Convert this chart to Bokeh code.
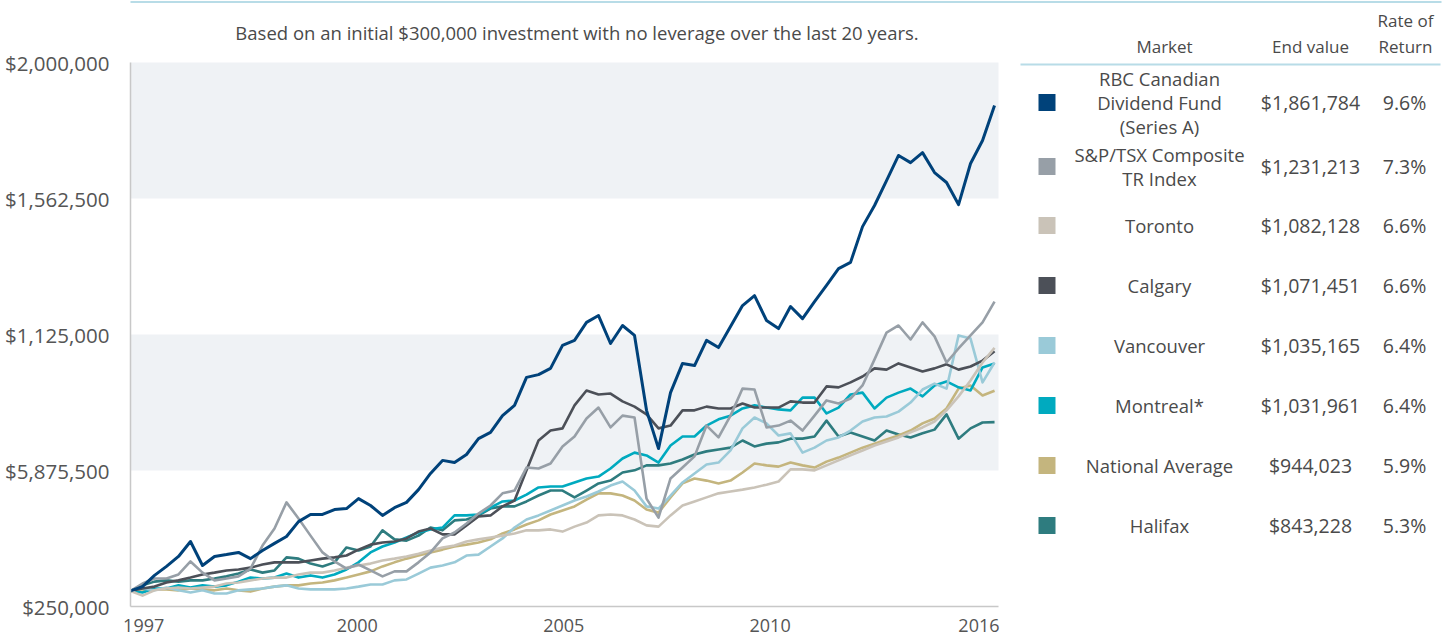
from bokeh.plotting import figure
from bokeh.models import Range1d, FixedTicker, BoxAnnotation
from bokeh.embed import file_html
from bokeh.resources import INLINE
from bokeh.core.properties import value

FONT = "Open Sans"
TXT = "#4a4a4a"

# ---------------- data ----------------
periods = list(range(73))
x_tick_positions = [1.1, 18.9, 36.1, 53.3, 70.7]
x_tick_labels = ["1997", "2000", "2005", "2010", "2016"]
y_tick_values = [250000, 687500, 1125000, 1562500, 2000000]
y_tick_labels = ["$250,000", "$5,875,500", "$1,125,000", "$1,562,500", "$2,000,000"]

markets = ["RBC Canadian\nDividend Fund\n(Series A)", "S&P/TSX Composite\nTR Index", "Toronto",
           "Calgary", "Vancouver", "Montreal*", "National Average", "Halifax"]
end_values = ["$1,861,784", "$1,231,213", "$1,082,128", "$1,071,451", "$1,035,165",
              "$1,031,961", "$944,023", "$843,228"]
rates = ["9.6%", "7.3%", "6.6%", "6.6%", "6.4%", "6.4%", "5.9%", "5.3%"]
colors = ["#00427a", "#979fa7", "#cac3b8", "#4c5058", "#9acad8", "#00aabf", "#c4b57e", "#2e7c7f"]

# values in thousands of dollars
rbc = [300, 314, 350, 379, 411, 459, 382, 411, 417, 424,
       404, 430, 453, 475, 523, 546, 546, 562, 565, 597,
       575, 543, 568, 585, 626, 678, 720, 713, 739, 790,
       810, 864, 897, 987, 996, 1016, 1090, 1106, 1164, 1186,
       1096, 1154, 1122, 881, 758, 938, 1032, 1025, 1106, 1083,
       1151, 1218, 1250, 1170, 1144, 1215, 1176, 1231, 1283, 1337,
       1357, 1472, 1540, 1620, 1701, 1678, 1710, 1646, 1614, 1543,
       1675, 1749, 1862]
tsx = [300, 324, 340, 340, 353, 395, 359, 334, 340, 347,
       372, 446, 501, 585, 533, 478, 424, 395, 372, 385,
       366, 347, 363, 363, 392, 424, 469, 488, 517, 549,
       575, 614, 623, 697, 694, 710, 765, 797, 855, 890,
       826, 864, 858, 597, 536, 662, 697, 733, 832, 794,
       864, 951, 948, 826, 832, 848, 816, 864, 913, 903,
       919, 961, 1045, 1131, 1154, 1109, 1164, 1119, 1035, 1080,
       1122, 1164, 1231]
toronto = [300, 285, 302, 308, 311, 308, 311, 314, 324, 327,
           334, 340, 343, 343, 353, 359, 359, 366, 375, 382,
           388, 398, 404, 411, 420, 430, 440, 446, 459, 466,
           472, 478, 485, 495, 495, 498, 491, 507, 520, 543,
           546, 543, 530, 511, 507, 543, 575, 588, 601, 614,
           620, 626, 633, 642, 652, 691, 691, 688, 704, 720,
           736, 752, 768, 781, 794, 810, 826, 845, 881, 926,
           977, 1035, 1082]
calgary = [300, 308, 314, 327, 334, 343, 353, 359, 366, 369,
           375, 385, 392, 392, 392, 398, 404, 408, 414, 433,
           449, 456, 459, 469, 491, 501, 482, 482, 511, 540,
           543, 572, 591, 688, 784, 816, 823, 897, 945, 932,
           935, 910, 893, 868, 823, 832, 881, 881, 893, 887,
           887, 903, 890, 890, 890, 910, 906, 906, 958, 955,
           971, 990, 1016, 1012, 1032, 1019, 1006, 1016, 1029, 1012,
           1022, 1041, 1071]
vancouver = [300, 308, 302, 311, 302, 295, 302, 292, 292, 302,
             305, 308, 314, 318, 308, 305, 305, 305, 308, 314,
             321, 321, 334, 337, 356, 375, 382, 392, 414, 417,
             443, 469, 504, 530, 543, 559, 575, 591, 604, 620,
             639, 652, 623, 572, 565, 607, 649, 678, 707, 713,
             752, 823, 858, 839, 800, 807, 745, 761, 784, 794,
             816, 845, 858, 861, 877, 906, 948, 967, 951, 1122,
             1112, 971, 1035]
montreal = [300, 295, 308, 308, 318, 311, 318, 314, 318, 330,
            343, 340, 343, 356, 343, 350, 343, 353, 369, 392,
            424, 443, 456, 472, 488, 498, 504, 543, 543, 546,
            568, 588, 591, 610, 633, 636, 636, 649, 662, 668,
            694, 726, 745, 736, 713, 768, 797, 797, 832, 852,
            864, 887, 897, 890, 884, 881, 922, 922, 871, 890,
            932, 938, 887, 922, 938, 951, 926, 961, 974, 955,
            945, 1019, 1032]
national = [300, 298, 305, 305, 302, 308, 305, 302, 308, 302,
            298, 308, 314, 318, 318, 324, 327, 334, 343, 353,
            363, 379, 392, 404, 414, 424, 433, 443, 449, 456,
            466, 485, 498, 514, 527, 546, 559, 572, 594, 614,
            614, 607, 591, 562, 552, 601, 646, 662, 655, 646,
            655, 681, 710, 704, 700, 713, 704, 697, 716, 729,
            745, 761, 774, 787, 800, 816, 839, 855, 887, 951,
            961, 929, 944]
halifax = [300, 318, 330, 334, 330, 334, 334, 340, 347, 356,
           369, 359, 366, 408, 404, 388, 379, 392, 440, 430,
           443, 495, 466, 462, 478, 504, 495, 527, 530, 543,
           565, 572, 572, 588, 607, 623, 623, 601, 623, 646,
           655, 681, 688, 704, 704, 710, 723, 739, 749, 755,
           761, 784, 765, 774, 778, 790, 790, 797, 848, 797,
           810, 797, 784, 816, 803, 794, 807, 819, 868, 790,
           823, 842, 843]

title_text = "Based on an initial $300,000 investment with no leverage over the last 20 years."

# ---------------- layout constants (pixels) ----------------
W, H = 1451, 639
FL, FB = 130, 606            # frame left / chart baseline (page px)
CHART_R, CHART_T = 998, 62   # chart right edge / $2,000,000 line
x_data_end = 72.33
px_per_x = (CHART_R - FL) / x_data_end
y_per_px = (y_tick_values[-1] - y_tick_values[0]) / (FB - CHART_T)
x_range_end = (W - FL) / px_per_x
y_range_end = y_tick_values[0] + FB * y_per_px

p = figure(width=W, height=H, x_range=Range1d(0, x_range_end),
           y_range=Range1d(y_tick_values[0], y_range_end),
           output_backend="svg", toolbar_location=None,
           min_border_left=FL, min_border_right=0, min_border_top=0, min_border_bottom=H - FB,
           outline_line_color=None, background_fill_color="white", border_fill_color="white")
p.xgrid.visible = False
p.ygrid.visible = False
p.extra_x_ranges = {"px": Range1d(FL, W)}
p.extra_y_ranges = {"py": Range1d(FB, 0)}

# top rule across the page
p.add_layout(BoxAnnotation(left=0, right=1441, top=0.5, bottom=2.5,
                           left_units="canvas", right_units="canvas",
                           top_units="canvas", bottom_units="canvas",
                           fill_color="#b8dce7", fill_alpha=1.0, line_color=None))

# shaded bands
for lo, hi in [(y_tick_values[3], y_tick_values[4]), (y_tick_values[1], y_tick_values[2])]:
    p.add_layout(BoxAnnotation(left=0, right=x_data_end, bottom=lo, top=hi,
                               fill_color="#eff2f5", fill_alpha=1.0,
                               line_color=None, level="underlay"))

p.yaxis.ticker = FixedTicker(ticks=y_tick_values)
p.yaxis.major_label_overrides = {v: l for v, l in zip(y_tick_values, y_tick_labels)}
p.yaxis.bounds = (y_tick_values[0], y_tick_values[-1])
p.xaxis.ticker = FixedTicker(ticks=x_tick_positions)
p.xaxis.major_label_overrides = {v: l for v, l in zip(x_tick_positions, x_tick_labels)}
p.xaxis.bounds = (0, x_data_end)
for ax in (p.xaxis, p.yaxis):
    ax.major_tick_line_color = None
    ax.minor_tick_line_color = None
    ax.axis_line_color = "#c8c8c8"
    ax.axis_line_width = 1.5
    ax.major_label_text_font = FONT
    ax.major_label_text_color = "#555555"
p.yaxis.major_label_text_font_size = "20.5px"
p.yaxis.major_label_standoff = 15
p.xaxis.major_label_text_font_size = "18px"
p.xaxis.major_label_standoff = 6

# series lines
series = [halifax, national, montreal, vancouver, calgary, toronto, tsx, rbc]
series_colors = [colors[7], colors[6], colors[5], colors[4], colors[3], colors[2], colors[1], colors[0]]
for vals, c in zip(series, series_colors):
    lw = 3.0 if c == colors[0] else 2.6
    p.line(periods, [v * 1000 for v in vals], line_color=c, line_width=lw, line_join="round")

# ---------------- title & table (page pixel coordinates) ----------------
def txt(xs, ys, texts, size, align="center"):
    p.text(x=xs, y=ys, text=texts, x_range_name="px", y_range_name="py",
           text_align=align, text_baseline="middle", text_font=value(FONT),
           text_font_size=size, text_color=TXT)

txt([576.5], [32], [title_text], "18.5px")
txt([1405, 1164, 1310, 1405], [20, 46, 46, 46], ["Rate of", "Market", "End value", "Return"], "17px")
p.segment(x0=[1020], y0=[64], x1=[1440], y1=[64], x_range_name="px", y_range_name="py",
          line_color="#b8dce7", line_width=2)

row_y = [102, 166, 225, 285, 345, 405, 465, 525]
p.rect(x=[1046.5] * len(row_y), y=row_y, width=17, height=17, x_range_name="px", y_range_name="py",
       fill_color=colors, line_color=None)
name_x, name_y, name_t = [], [], []
for m, yc in zip(markets, row_y):
    parts = m.split("\n")
    for k, part in enumerate(parts):
        name_x.append(1159)
        name_y.append(yc + (k - (len(parts) - 1) / 2) * 24)
        name_t.append(part)
txt(name_x, name_y, name_t, "18.5px")
txt([1310] * len(row_y), row_y, end_values, "19.5px")
txt([1404] * len(row_y), row_y, rates, "19.5px")

open("out.html", "w").write(file_html(p, INLINE))
